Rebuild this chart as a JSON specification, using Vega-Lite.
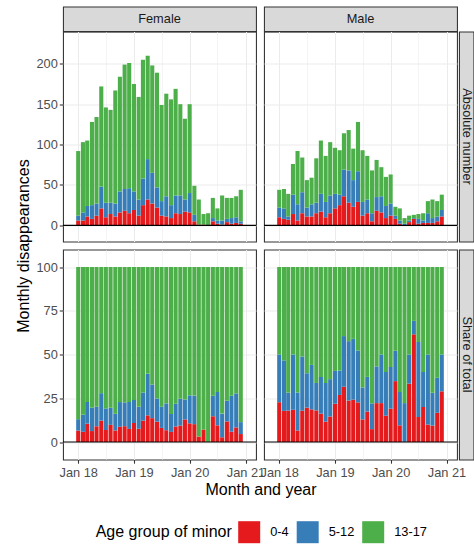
{
  "$schema": "https://vega.github.io/schema/vega-lite/v6.json",
  "padding": {"left": 15, "top": 0.5, "right": 0, "bottom": 1},
  "config": {
    "font": "Liberation Sans",
    "view": {"stroke": "#333333", "strokeWidth": 1.07},
    "axis": {"labelFontSize": 12.8, "labelColor": "#4D4D4D", "titleFontSize": 16, "titleFontWeight": "normal", "titleColor": "#000000", "tickColor": "#333333", "tickSize": 3.7, "tickWidth": 1.07, "domain": false, "gridColor": "#EBEBEB", "labelPadding": 2, "labelFlush": false, "labelOverlap": false},
    "axisY": {"titlePadding": 4},
    "axisX": {"titlePadding": 1.5, "labelPadding": 3.5}
  },
  "datasets": {
    "ages": [{"a": "0-4", "k": 1}, {"a": "5-12", "k": 2}, {"a": "13-17", "k": 3}],
    "main": [
      {"m":"2018-01-01","s":"Female","a":"0-4","n":6},{"m":"2018-01-01","s":"Female","a":"5-12","n":6},{"m":"2018-01-01","s":"Female","a":"13-17","n":80},
      {"m":"2018-02-01","s":"Female","a":"0-4","n":6},{"m":"2018-02-01","s":"Female","a":"5-12","n":10},{"m":"2018-02-01","s":"Female","a":"13-17","n":87},
      {"m":"2018-03-01","s":"Female","a":"0-4","n":11},{"m":"2018-03-01","s":"Female","a":"5-12","n":13},{"m":"2018-03-01","s":"Female","a":"13-17","n":81},
      {"m":"2018-04-01","s":"Female","a":"0-4","n":8},{"m":"2018-04-01","s":"Female","a":"5-12","n":17},{"m":"2018-04-01","s":"Female","a":"13-17","n":103},
      {"m":"2018-05-01","s":"Female","a":"0-4","n":12},{"m":"2018-05-01","s":"Female","a":"5-12","n":15},{"m":"2018-05-01","s":"Female","a":"13-17","n":107},
      {"m":"2018-06-01","s":"Female","a":"0-4","n":21},{"m":"2018-06-01","s":"Female","a":"5-12","n":27},{"m":"2018-06-01","s":"Female","a":"13-17","n":124},
      {"m":"2018-07-01","s":"Female","a":"0-4","n":10},{"m":"2018-07-01","s":"Female","a":"5-12","n":18},{"m":"2018-07-01","s":"Female","a":"13-17","n":118},
      {"m":"2018-08-01","s":"Female","a":"0-4","n":14},{"m":"2018-08-01","s":"Female","a":"5-12","n":14},{"m":"2018-08-01","s":"Female","a":"13-17","n":115},
      {"m":"2018-09-01","s":"Female","a":"0-4","n":11},{"m":"2018-09-01","s":"Female","a":"5-12","n":16},{"m":"2018-09-01","s":"Female","a":"13-17","n":140},
      {"m":"2018-10-01","s":"Female","a":"0-4","n":16},{"m":"2018-10-01","s":"Female","a":"5-12","n":26},{"m":"2018-10-01","s":"Female","a":"13-17","n":142},
      {"m":"2018-11-01","s":"Female","a":"0-4","n":18},{"m":"2018-11-01","s":"Female","a":"5-12","n":27},{"m":"2018-11-01","s":"Female","a":"13-17","n":154},
      {"m":"2018-12-01","s":"Female","a":"0-4","n":15},{"m":"2018-12-01","s":"Female","a":"5-12","n":31},{"m":"2018-12-01","s":"Female","a":"13-17","n":155},
      {"m":"2019-01-01","s":"Female","a":"0-4","n":19},{"m":"2019-01-01","s":"Female","a":"5-12","n":23},{"m":"2019-01-01","s":"Female","a":"13-17","n":133},
      {"m":"2019-02-01","s":"Female","a":"0-4","n":12},{"m":"2019-02-01","s":"Female","a":"5-12","n":20},{"m":"2019-02-01","s":"Female","a":"13-17","n":127},
      {"m":"2019-03-01","s":"Female","a":"0-4","n":25},{"m":"2019-03-01","s":"Female","a":"5-12","n":33},{"m":"2019-03-01","s":"Female","a":"13-17","n":147},
      {"m":"2019-04-01","s":"Female","a":"0-4","n":32},{"m":"2019-04-01","s":"Female","a":"5-12","n":50},{"m":"2019-04-01","s":"Female","a":"13-17","n":128},
      {"m":"2019-05-01","s":"Female","a":"0-4","n":27},{"m":"2019-05-01","s":"Female","a":"5-12","n":38},{"m":"2019-05-01","s":"Female","a":"13-17","n":133},
      {"m":"2019-06-01","s":"Female","a":"0-4","n":22},{"m":"2019-06-01","s":"Female","a":"5-12","n":25},{"m":"2019-06-01","s":"Female","a":"13-17","n":142},
      {"m":"2019-07-01","s":"Female","a":"0-4","n":12},{"m":"2019-07-01","s":"Female","a":"5-12","n":18},{"m":"2019-07-01","s":"Female","a":"13-17","n":119},
      {"m":"2019-08-01","s":"Female","a":"0-4","n":11},{"m":"2019-08-01","s":"Female","a":"5-12","n":25},{"m":"2019-08-01","s":"Female","a":"13-17","n":127},
      {"m":"2019-09-01","s":"Female","a":"0-4","n":9},{"m":"2019-09-01","s":"Female","a":"5-12","n":16},{"m":"2019-09-01","s":"Female","a":"13-17","n":131},
      {"m":"2019-10-01","s":"Female","a":"0-4","n":15},{"m":"2019-10-01","s":"Female","a":"5-12","n":22},{"m":"2019-10-01","s":"Female","a":"13-17","n":132},
      {"m":"2019-11-01","s":"Female","a":"0-4","n":14},{"m":"2019-11-01","s":"Female","a":"5-12","n":23},{"m":"2019-11-01","s":"Female","a":"13-17","n":113},
      {"m":"2019-12-01","s":"Female","a":"0-4","n":17},{"m":"2019-12-01","s":"Female","a":"5-12","n":15},{"m":"2019-12-01","s":"Female","a":"13-17","n":100},
      {"m":"2020-01-01","s":"Female","a":"0-4","n":16},{"m":"2020-01-01","s":"Female","a":"5-12","n":24},{"m":"2020-01-01","s":"Female","a":"13-17","n":110},
      {"m":"2020-02-01","s":"Female","a":"0-4","n":5},{"m":"2020-02-01","s":"Female","a":"5-12","n":8},{"m":"2020-02-01","s":"Female","a":"13-17","n":36},
      {"m":"2020-03-01","s":"Female","a":"0-4","n":1},{"m":"2020-03-01","s":"Female","a":"5-12","n":0},{"m":"2020-03-01","s":"Female","a":"13-17","n":31},
      {"m":"2020-04-01","s":"Female","a":"0-4","n":1},{"m":"2020-04-01","s":"Female","a":"5-12","n":0},{"m":"2020-04-01","s":"Female","a":"13-17","n":13},
      {"m":"2020-05-01","s":"Female","a":"0-4","n":0},{"m":"2020-05-01","s":"Female","a":"5-12","n":0},{"m":"2020-05-01","s":"Female","a":"13-17","n":15},
      {"m":"2020-06-01","s":"Female","a":"0-4","n":5},{"m":"2020-06-01","s":"Female","a":"5-12","n":4},{"m":"2020-06-01","s":"Female","a":"13-17","n":25},
      {"m":"2020-07-01","s":"Female","a":"0-4","n":2},{"m":"2020-07-01","s":"Female","a":"5-12","n":4},{"m":"2020-07-01","s":"Female","a":"13-17","n":15},
      {"m":"2020-08-01","s":"Female","a":"0-4","n":1},{"m":"2020-08-01","s":"Female","a":"5-12","n":5},{"m":"2020-08-01","s":"Female","a":"13-17","n":31},
      {"m":"2020-09-01","s":"Female","a":"0-4","n":4},{"m":"2020-09-01","s":"Female","a":"5-12","n":4},{"m":"2020-09-01","s":"Female","a":"13-17","n":26},
      {"m":"2020-10-01","s":"Female","a":"0-4","n":2},{"m":"2020-10-01","s":"Female","a":"5-12","n":7},{"m":"2020-10-01","s":"Female","a":"13-17","n":25},
      {"m":"2020-11-01","s":"Female","a":"0-4","n":3},{"m":"2020-11-01","s":"Female","a":"5-12","n":7},{"m":"2020-11-01","s":"Female","a":"13-17","n":26},
      {"m":"2020-12-01","s":"Female","a":"0-4","n":2},{"m":"2020-12-01","s":"Female","a":"5-12","n":3},{"m":"2020-12-01","s":"Female","a":"13-17","n":39},
      {"m":"2018-01-01","s":"Male","a":"0-4","n":10},{"m":"2018-01-01","s":"Male","a":"5-12","n":12},{"m":"2018-01-01","s":"Male","a":"13-17","n":22},
      {"m":"2018-02-01","s":"Male","a":"0-4","n":8},{"m":"2018-02-01","s":"Male","a":"5-12","n":13},{"m":"2018-02-01","s":"Male","a":"13-17","n":24},
      {"m":"2018-03-01","s":"Male","a":"0-4","n":7},{"m":"2018-03-01","s":"Male","a":"5-12","n":4},{"m":"2018-03-01","s":"Male","a":"13-17","n":28},
      {"m":"2018-04-01","s":"Male","a":"0-4","n":14},{"m":"2018-04-01","s":"Male","a":"5-12","n":24},{"m":"2018-04-01","s":"Male","a":"13-17","n":38},
      {"m":"2018-05-01","s":"Male","a":"0-4","n":6},{"m":"2018-05-01","s":"Male","a":"5-12","n":20},{"m":"2018-05-01","s":"Male","a":"13-17","n":66},
      {"m":"2018-06-01","s":"Male","a":"0-4","n":15},{"m":"2018-06-01","s":"Male","a":"5-12","n":26},{"m":"2018-06-01","s":"Male","a":"13-17","n":43},
      {"m":"2018-07-01","s":"Male","a":"0-4","n":11},{"m":"2018-07-01","s":"Male","a":"5-12","n":11},{"m":"2018-07-01","s":"Male","a":"13-17","n":34},
      {"m":"2018-08-01","s":"Male","a":"0-4","n":11},{"m":"2018-08-01","s":"Male","a":"5-12","n":15},{"m":"2018-08-01","s":"Male","a":"13-17","n":33},
      {"m":"2018-09-01","s":"Male","a":"0-4","n":15},{"m":"2018-09-01","s":"Male","a":"5-12","n":13},{"m":"2018-09-01","s":"Male","a":"13-17","n":55},
      {"m":"2018-10-01","s":"Male","a":"0-4","n":17},{"m":"2018-10-01","s":"Male","a":"5-12","n":22},{"m":"2018-10-01","s":"Male","a":"13-17","n":66},
      {"m":"2018-11-01","s":"Male","a":"0-4","n":10},{"m":"2018-11-01","s":"Male","a":"5-12","n":19},{"m":"2018-11-01","s":"Male","a":"13-17","n":57},
      {"m":"2018-12-01","s":"Male","a":"0-4","n":15},{"m":"2018-12-01","s":"Male","a":"5-12","n":22},{"m":"2018-12-01","s":"Male","a":"13-17","n":66},
      {"m":"2019-01-01","s":"Male","a":"0-4","n":21},{"m":"2019-01-01","s":"Male","a":"5-12","n":18},{"m":"2019-01-01","s":"Male","a":"13-17","n":57},
      {"m":"2019-02-01","s":"Male","a":"0-4","n":25},{"m":"2019-02-01","s":"Male","a":"5-12","n":13},{"m":"2019-02-01","s":"Male","a":"13-17","n":55},
      {"m":"2019-03-01","s":"Male","a":"0-4","n":36},{"m":"2019-03-01","s":"Male","a":"5-12","n":33},{"m":"2019-03-01","s":"Male","a":"13-17","n":45},
      {"m":"2019-04-01","s":"Male","a":"0-4","n":28},{"m":"2019-04-01","s":"Male","a":"5-12","n":40},{"m":"2019-04-01","s":"Male","a":"13-17","n":50},
      {"m":"2019-05-01","s":"Male","a":"0-4","n":23},{"m":"2019-05-01","s":"Male","a":"5-12","n":33},{"m":"2019-05-01","s":"Male","a":"13-17","n":39},
      {"m":"2019-06-01","s":"Male","a":"0-4","n":29},{"m":"2019-06-01","s":"Male","a":"5-12","n":38},{"m":"2019-06-01","s":"Male","a":"13-17","n":61},
      {"m":"2019-07-01","s":"Male","a":"0-4","n":12},{"m":"2019-07-01","s":"Male","a":"5-12","n":17},{"m":"2019-07-01","s":"Male","a":"13-17","n":64},
      {"m":"2019-08-01","s":"Male","a":"0-4","n":15},{"m":"2019-08-01","s":"Male","a":"5-12","n":17},{"m":"2019-08-01","s":"Male","a":"13-17","n":54},
      {"m":"2019-09-01","s":"Male","a":"0-4","n":5},{"m":"2019-09-01","s":"Male","a":"5-12","n":10},{"m":"2019-09-01","s":"Male","a":"13-17","n":53},
      {"m":"2019-10-01","s":"Male","a":"0-4","n":18},{"m":"2019-10-01","s":"Male","a":"5-12","n":17},{"m":"2019-10-01","s":"Male","a":"13-17","n":46},
      {"m":"2019-11-01","s":"Male","a":"0-4","n":16},{"m":"2019-11-01","s":"Male","a":"5-12","n":20},{"m":"2019-11-01","s":"Male","a":"13-17","n":36},
      {"m":"2019-12-01","s":"Male","a":"0-4","n":9},{"m":"2019-12-01","s":"Male","a":"5-12","n":15},{"m":"2019-12-01","s":"Male","a":"13-17","n":36},
      {"m":"2020-01-01","s":"Male","a":"0-4","n":12},{"m":"2020-01-01","s":"Male","a":"5-12","n":15},{"m":"2020-01-01","s":"Male","a":"13-17","n":36},
      {"m":"2020-02-01","s":"Male","a":"0-4","n":8},{"m":"2020-02-01","s":"Male","a":"5-12","n":4},{"m":"2020-02-01","s":"Male","a":"13-17","n":11},
      {"m":"2020-03-01","s":"Male","a":"0-4","n":2},{"m":"2020-03-01","s":"Male","a":"5-12","n":4},{"m":"2020-03-01","s":"Male","a":"13-17","n":15},
      {"m":"2020-04-01","s":"Male","a":"0-4","n":0},{"m":"2020-04-01","s":"Male","a":"5-12","n":2},{"m":"2020-04-01","s":"Male","a":"13-17","n":7},
      {"m":"2020-05-01","s":"Male","a":"0-4","n":4},{"m":"2020-05-01","s":"Male","a":"5-12","n":2},{"m":"2020-05-01","s":"Male","a":"13-17","n":6},
      {"m":"2020-06-01","s":"Male","a":"0-4","n":8},{"m":"2020-06-01","s":"Male","a":"5-12","n":1},{"m":"2020-06-01","s":"Male","a":"13-17","n":4},
      {"m":"2020-07-01","s":"Male","a":"0-4","n":2},{"m":"2020-07-01","s":"Male","a":"5-12","n":6},{"m":"2020-07-01","s":"Male","a":"13-17","n":6},
      {"m":"2020-08-01","s":"Male","a":"0-4","n":3},{"m":"2020-08-01","s":"Male","a":"5-12","n":3},{"m":"2020-08-01","s":"Male","a":"13-17","n":9},
      {"m":"2020-09-01","s":"Male","a":"0-4","n":3},{"m":"2020-09-01","s":"Male","a":"5-12","n":12},{"m":"2020-09-01","s":"Male","a":"13-17","n":15},
      {"m":"2020-10-01","s":"Male","a":"0-4","n":3},{"m":"2020-10-01","s":"Male","a":"5-12","n":6},{"m":"2020-10-01","s":"Male","a":"13-17","n":23},
      {"m":"2020-11-01","s":"Male","a":"0-4","n":5},{"m":"2020-11-01","s":"Male","a":"5-12","n":6},{"m":"2020-11-01","s":"Male","a":"13-17","n":19},
      {"m":"2020-12-01","s":"Male","a":"0-4","n":11},{"m":"2020-12-01","s":"Male","a":"5-12","n":8},{"m":"2020-12-01","s":"Male","a":"13-17","n":19}
    ]
  },
  "resolve": {"scale": {"color": "shared"}},
  "bounds": "flush",
  "columns": 5,
  "spacing": {"row": 0, "column": 0},
  "concat": [
    {"width": 193, "height": 24.7, "data": {"values": [{"t": "Female"}]}, "view": {"fill": "#D9D9D9", "stroke": "#333333", "strokeWidth": 1.07}, "mark": {"type": "text", "fontSize": 12.8, "color": "#1A1A1A"}, "encoding": {"text": {"field": "t", "type": "nominal"}}},
    {"width": 8, "height": 1, "data": {"values": [{}]}, "mark": {"type": "text", "text": ""}, "encoding": {}, "view": {"stroke": null}},
    {"width": 193, "height": 24.7, "data": {"values": [{"t": "Male"}]}, "view": {"fill": "#D9D9D9", "stroke": "#333333", "strokeWidth": 1.07}, "mark": {"type": "text", "fontSize": 12.8, "color": "#1A1A1A"}, "encoding": {"text": {"field": "t", "type": "nominal"}}},
    {"width": 2, "height": 1, "data": {"values": [{}]}, "mark": {"type": "text", "text": ""}, "encoding": {}, "view": {"stroke": null}},
    {"width": 14.5, "height": 1, "data": {"values": [{}]}, "mark": {"type": "text", "text": ""}, "encoding": {}, "view": {"stroke": null}},

    {
      "width": 193, "height": 210,
      "layer": [
        {
          "data": {"name": "main"},
          "transform": [{"filter": "datum.s === 'Female'"}, {"lookup": "a", "from": {"data": {"name": "ages"}, "key": "a", "fields": ["k"]}}],
          "mark": {"type": "bar", "width": 4.1},
          "encoding": {
            "x": {"field": "m", "type": "temporal", "scale": {"type": "utc", "domain": [{"year": 2017, "month": 10, "date": 26, "utc": true}, {"year": 2021, "month": 2, "date": 6, "utc": true}]},
              "axis": {"values": [{"year":2018,"month":1,"date":1,"utc":true},{"year":2018,"month":7,"date":1,"utc":true},{"year":2019,"month":1,"date":1,"utc":true},{"year":2019,"month":7,"date":1,"utc":true},{"year":2020,"month":1,"date":1,"utc":true},{"year":2020,"month":7,"date":1,"utc":true},{"year":2021,"month":1,"date":1,"utc":true}], "labels": false, "ticks": false, "title": null, "gridWidth": {"condition": {"test": "utcmonth(datum.value) === 0", "value": 1.07}, "value": 0.53}}},
            "y": {"field": "n", "type": "quantitative", "stack": "zero", "scale": {"domain": [-10.5, 220.5]},
              "axis": {"values": [0,25,50,75,100,125,150,175,200], "labelExpr": "datum.value % 50 === 0 ? datum.label : ''", "tickColor": {"condition": {"test": "datum.value % 50 === 0", "value": "#333333"}, "value": "transparent"}, "gridWidth": {"condition": {"test": "datum.value % 50 === 0", "value": 1.07}, "value": 0.53}, "title": "Monthly disappearances", "titleY": 214}},
            "color": {"field": "a", "type": "nominal", "title": "Age group of minor", "scale": {"domain": ["0-4", "5-12", "13-17"], "range": ["#E41A1C", "#377EB8", "#4DAF4A"]},
              "legend": {"orient": "none", "legendX": 32.7, "legendY": 514.7, "direction": "horizontal", "titleOrient": "left", "symbolType": "square", "symbolSize": 484, "symbolStrokeWidth": 0, "symbolOpacity": 1, "labelFontSize": 12.8, "titleFontSize": 16, "titleFontWeight": "normal", "labelColor": "#000000", "titleColor": "#000000", "labelOffset": 10, "columnPadding": 7.5, "titlePadding": 5.5}},
            "order": {"field": "k", "type": "quantitative"}
          }
        },
        {"data": {"values": [{"z": 0}]}, "mark": {"type": "rule", "color": "#000000", "strokeWidth": 1.07}, "encoding": {"y": {"field": "z", "type": "quantitative"}}}
      ]
    },
    {"width": 8, "height": 1, "data": {"values": [{}]}, "mark": {"type": "text", "text": ""}, "encoding": {}, "view": {"stroke": null}},
    {
      "width": 193, "height": 210,
      "layer": [
        {
          "data": {"name": "main"},
          "transform": [{"filter": "datum.s === 'Male'"}, {"lookup": "a", "from": {"data": {"name": "ages"}, "key": "a", "fields": ["k"]}}],
          "mark": {"type": "bar", "width": 4.1},
          "encoding": {
            "x": {"field": "m", "type": "temporal", "scale": {"type": "utc", "domain": [{"year": 2017, "month": 10, "date": 26, "utc": true}, {"year": 2021, "month": 2, "date": 6, "utc": true}]},
              "axis": {"values": [{"year":2018,"month":1,"date":1,"utc":true},{"year":2018,"month":7,"date":1,"utc":true},{"year":2019,"month":1,"date":1,"utc":true},{"year":2019,"month":7,"date":1,"utc":true},{"year":2020,"month":1,"date":1,"utc":true},{"year":2020,"month":7,"date":1,"utc":true},{"year":2021,"month":1,"date":1,"utc":true}], "labels": false, "ticks": false, "title": null, "gridWidth": {"condition": {"test": "utcmonth(datum.value) === 0", "value": 1.07}, "value": 0.53}}},
            "y": {"field": "n", "type": "quantitative", "stack": "zero", "scale": {"domain": [-10.5, 220.5]},
              "axis": {"values": [0,25,50,75,100,125,150,175,200], "labels": false, "ticks": false, "title": null, "gridWidth": {"condition": {"test": "datum.value % 50 === 0", "value": 1.07}, "value": 0.53}}},
            "color": {"field": "a", "type": "nominal", "title": "Age group of minor", "scale": {"domain": ["0-4", "5-12", "13-17"], "range": ["#E41A1C", "#377EB8", "#4DAF4A"]}},
            "order": {"field": "k", "type": "quantitative"}
          }
        },
        {"data": {"values": [{"z": 0}]}, "mark": {"type": "rule", "color": "#000000", "strokeWidth": 1.07}, "encoding": {"y": {"field": "z", "type": "quantitative"}}}
      ]
    },
    {"width": 2, "height": 1, "data": {"values": [{}]}, "mark": {"type": "text", "text": ""}, "encoding": {}, "view": {"stroke": null}},
    {"width": 14.5, "height": 210, "data": {"values": [{"t": "Absolute number"}]}, "view": {"fill": "#D9D9D9", "stroke": "#333333", "strokeWidth": 1.07}, "mark": {"type": "text", "fontSize": 12.8, "color": "#1A1A1A", "angle": 90, "dy": -1}, "encoding": {"text": {"field": "t", "type": "nominal"}}},

    {"width": 1, "height": 7.5, "data": {"values": [{}]}, "mark": {"type": "text", "text": ""}, "encoding": {}, "view": {"stroke": null}},
    {"width": 1, "height": 7.5, "data": {"values": [{}]}, "mark": {"type": "text", "text": ""}, "encoding": {}, "view": {"stroke": null}},
    {"width": 1, "height": 7.5, "data": {"values": [{}]}, "mark": {"type": "text", "text": ""}, "encoding": {}, "view": {"stroke": null}},
    {"width": 1, "height": 7.5, "data": {"values": [{}]}, "mark": {"type": "text", "text": ""}, "encoding": {}, "view": {"stroke": null}},
    {"width": 1, "height": 7.5, "data": {"values": [{}]}, "mark": {"type": "text", "text": ""}, "encoding": {}, "view": {"stroke": null}},

    {
      "width": 193, "height": 210,
      "layer": [
        {
          "data": {"name": "main"},
          "transform": [{"filter": "datum.s === 'Female'"}, {"lookup": "a", "from": {"data": {"name": "ages"}, "key": "a", "fields": ["k"]}}],
          "mark": {"type": "bar", "width": 4.1},
          "encoding": {
            "x": {"field": "m", "type": "temporal", "scale": {"type": "utc", "domain": [{"year": 2017, "month": 10, "date": 26, "utc": true}, {"year": 2021, "month": 2, "date": 6, "utc": true}]},
              "axis": {"values": [{"year":2018,"month":1,"date":1,"utc":true},{"year":2018,"month":7,"date":1,"utc":true},{"year":2019,"month":1,"date":1,"utc":true},{"year":2019,"month":7,"date":1,"utc":true},{"year":2020,"month":1,"date":1,"utc":true},{"year":2020,"month":7,"date":1,"utc":true},{"year":2021,"month":1,"date":1,"utc":true}], "labelExpr": "utcmonth(datum.value) === 0 ? utcFormat(datum.value, '%b %y') : ''", "tickColor": {"condition": {"test": "utcmonth(datum.value) === 0", "value": "#333333"}, "value": "transparent"}, "gridWidth": {"condition": {"test": "utcmonth(datum.value) === 0", "value": 1.07}, "value": 0.53}, "title": "Month and year", "titleX": 197.5}},
            "y": {"field": "n", "type": "quantitative", "stack": "normalize", "scale": {"domain": [-0.05, 1.05]},
              "axis": {"values": [0,0.125,0.25,0.375,0.5,0.625,0.75,0.875,1], "labelExpr": "datum.value % 0.25 === 0 ? format(datum.value * 100, 'd') : ''", "tickColor": {"condition": {"test": "datum.value % 0.25 === 0", "value": "#333333"}, "value": "transparent"}, "gridWidth": {"condition": {"test": "datum.value % 0.25 === 0", "value": 1.07}, "value": 0.53}, "title": null}},
            "color": {"field": "a", "type": "nominal", "title": "Age group of minor", "scale": {"domain": ["0-4", "5-12", "13-17"], "range": ["#E41A1C", "#377EB8", "#4DAF4A"]}},
            "order": {"field": "k", "type": "quantitative"}
          }
        },
        {"data": {"values": [{"z": 0}]}, "mark": {"type": "rule", "color": "#000000", "strokeWidth": 1.07}, "encoding": {"y": {"field": "z", "type": "quantitative"}}}
      ]
    },
    {"width": 8, "height": 1, "data": {"values": [{}]}, "mark": {"type": "text", "text": ""}, "encoding": {}, "view": {"stroke": null}},
    {
      "width": 193, "height": 210,
      "layer": [
        {
          "data": {"name": "main"},
          "transform": [{"filter": "datum.s === 'Male'"}, {"lookup": "a", "from": {"data": {"name": "ages"}, "key": "a", "fields": ["k"]}}],
          "mark": {"type": "bar", "width": 4.1},
          "encoding": {
            "x": {"field": "m", "type": "temporal", "scale": {"type": "utc", "domain": [{"year": 2017, "month": 10, "date": 26, "utc": true}, {"year": 2021, "month": 2, "date": 6, "utc": true}]},
              "axis": {"values": [{"year":2018,"month":1,"date":1,"utc":true},{"year":2018,"month":7,"date":1,"utc":true},{"year":2019,"month":1,"date":1,"utc":true},{"year":2019,"month":7,"date":1,"utc":true},{"year":2020,"month":1,"date":1,"utc":true},{"year":2020,"month":7,"date":1,"utc":true},{"year":2021,"month":1,"date":1,"utc":true}], "labelExpr": "utcmonth(datum.value) === 0 ? utcFormat(datum.value, '%b %y') : ''", "tickColor": {"condition": {"test": "utcmonth(datum.value) === 0", "value": "#333333"}, "value": "transparent"}, "gridWidth": {"condition": {"test": "utcmonth(datum.value) === 0", "value": 1.07}, "value": 0.53}, "title": null}},
            "y": {"field": "n", "type": "quantitative", "stack": "normalize", "scale": {"domain": [-0.05, 1.05]},
              "axis": {"values": [0,0.125,0.25,0.375,0.5,0.625,0.75,0.875,1], "labels": false, "ticks": false, "title": null, "gridWidth": {"condition": {"test": "datum.value % 0.25 === 0", "value": 1.07}, "value": 0.53}}},
            "color": {"field": "a", "type": "nominal", "title": "Age group of minor", "scale": {"domain": ["0-4", "5-12", "13-17"], "range": ["#E41A1C", "#377EB8", "#4DAF4A"]}},
            "order": {"field": "k", "type": "quantitative"}
          }
        },
        {"data": {"values": [{"z": 0}]}, "mark": {"type": "rule", "color": "#000000", "strokeWidth": 1.07}, "encoding": {"y": {"field": "z", "type": "quantitative"}}}
      ]
    },
    {"width": 2, "height": 1, "data": {"values": [{}]}, "mark": {"type": "text", "text": ""}, "encoding": {}, "view": {"stroke": null}},
    {"width": 14.5, "height": 210, "data": {"values": [{"t": "Share of total"}]}, "view": {"fill": "#D9D9D9", "stroke": "#333333", "strokeWidth": 1.07}, "mark": {"type": "text", "fontSize": 12.8, "color": "#1A1A1A", "angle": 90, "dy": -1}, "encoding": {"text": {"field": "t", "type": "nominal"}}}
  ]
}
